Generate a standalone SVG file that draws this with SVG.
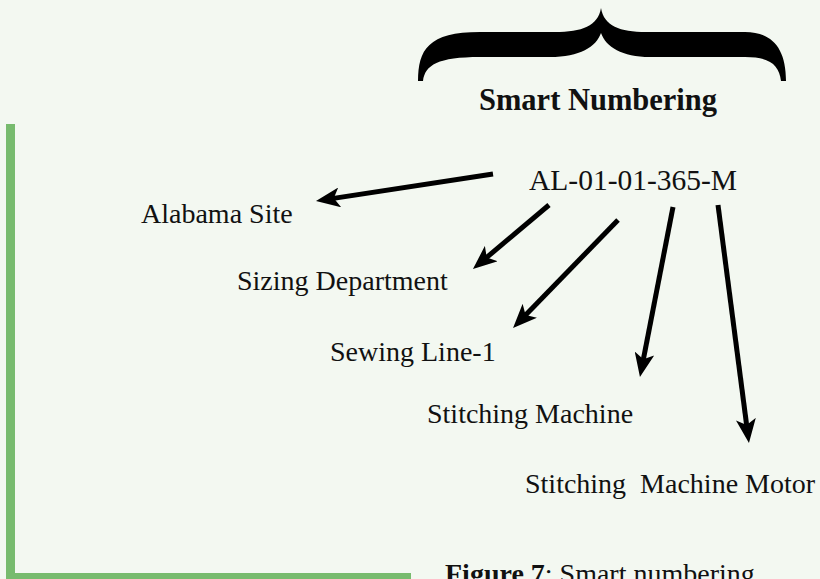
<svg xmlns="http://www.w3.org/2000/svg" width="820" height="579" viewBox="0 0 820 579">
  <style>
    .lbl { font-family: "Liberation Serif", "DejaVu Serif", serif; font-size: 28px; fill: #111; }
    .bold { font-weight: bold; }
    .edge { stroke: #000; stroke-width: 5; fill: none; marker-end: url(#head); }
    .frame { fill: #77bb6e; }
  </style>
  <defs>
    <marker id="head" viewBox="0 0 24 20" refX="8" refY="10" markerWidth="24" markerHeight="20" markerUnits="userSpaceOnUse" orient="auto">
      <path d="M0,0 L24,10 L0,20 L6,10 Z" fill="#000"/>
    </marker>
  </defs>

  <rect width="820" height="579" fill="#f3f8f1"/>

  <!-- green frame: left rule and bottom rule -->
  <g id="frame">
    <rect class="frame" x="6" y="124" width="9" height="455"/>
    <rect class="frame" x="6" y="573" width="405" height="6"/>
  </g>

  <!-- curly brace over the code -->
  <g id="brace">
    <path d="M418 81 C418 50 428 32 480 32 L555 32 C582 32 598 26 601 8 C604 26 620 32 646 32 L745 32 C772 32 786 48 786 81 L781 81 C779 65 770 57 745 57 L650 57 C622 57 606 47 601 33 C596 47 580 57 550 57 L480 57 C438 57 425 65 423 81 Z" fill="#000"/>
  </g>

  <g id="title">
    <text class="lbl bold" x="479" y="110" style="font-size:30.5px">Smart Numbering</text>
  </g>

  <g id="code">
    <text class="lbl" x="529" y="190" style="font-size:29.5px">AL-01-01-365-M</text>
  </g>

  <g id="site">
    <text class="lbl" x="141" y="223">Alabama Site</text>
  </g>
  <g id="department">
    <text class="lbl" x="237" y="290">Sizing Department</text>
  </g>
  <g id="line">
    <text class="lbl" x="330" y="361">Sewing Line-1</text>
  </g>
  <g id="machine">
    <text class="lbl" x="427" y="423">Stitching Machine</text>
  </g>
  <g id="motor">
    <text class="lbl" x="525" y="493" xml:space="preserve">Stitching  Machine Motor</text>
  </g>

  <g id="caption">
    <text class="lbl" x="445" y="583"><tspan class="bold">Figure 7</tspan>: Smart numbering</text>
  </g>

  <g id="connectors">
    <line class="edge" x1="493" y1="174" x2="331.8" y2="198.6"/>
    <line class="edge" x1="549" y1="205" x2="485.2" y2="258.7"/>
    <line class="edge" x1="618" y1="220" x2="524.2" y2="316.5"/>
    <line class="edge" x1="673" y1="207" x2="643.0" y2="361.3"/>
    <line class="edge" x1="718" y1="205" x2="746.9" y2="427.1"/>
  </g>
</svg>
